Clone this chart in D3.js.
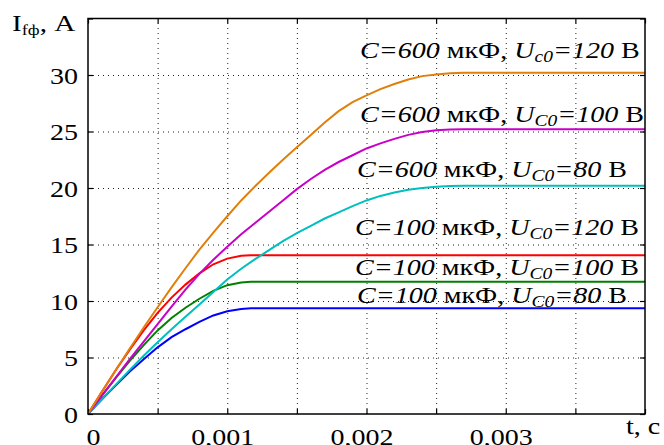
<!DOCTYPE html>
<html><head><meta charset="utf-8">
<script src="https://cdn.jsdelivr.net/npm/d3@7"></script>
<style>
html,body{margin:0;padding:0;background:#fff;}
svg{display:block;font-family:"Liberation Serif","Times New Roman",serif;}
</style></head>
<body><svg id="c" width="664" height="445"></svg>
<script>
// ---- data ----
const t100 = [0,0.0001,0.0002,0.0003,0.0004,0.0005,0.0006,0.0007,0.0008,0.0009,0.0010,0.0011,0.00117,0.004];
const blue100_80   = [0,1.3,2.55,3.75,4.85,5.9,6.8,7.5,8.15,8.72,9.1,9.3,9.35,9.35];
const green100_100 = [0,1.63,3.2,4.7,6.1,7.4,8.5,9.4,10.2,10.9,11.4,11.63,11.7,11.7];
const red100_120   = [0,1.97,3.9,5.7,7.4,8.95,10.3,11.45,12.45,13.25,13.75,14.0,14.05,14.05];
const t600 = [0,0.0001,0.0002,0.0003,0.0004,0.0005,0.0006,0.0007,0.0008,0.0009,0.0010,0.0011,0.0012,0.0013,0.0014,0.0015,0.0016,0.0017,0.0018,0.0019,0.0020,0.0021,0.0022,0.0023,0.0024,0.0025,0.0026,0.0027,0.004];
const orange600_120 = [0,1.97,3.9,5.8,7.65,9.45,11.2,12.9,14.55,16.05,17.5,18.9,20.15,21.35,22.5,23.6,24.7,25.8,26.8,27.6,28.2,28.75,29.2,29.6,29.9,30.05,30.15,30.2,30.2];
const magenta600_100 = [0,1.63,3.25,4.85,6.4,7.95,9.5,11.0,12.4,13.65,14.8,15.9,16.9,17.9,18.9,19.9,20.8,21.6,22.3,22.9,23.5,23.95,24.35,24.7,24.95,25.1,25.18,25.2,25.2];
const cyan600_80 = [0,1.3,2.6,3.9,5.15,6.35,7.5,8.6,9.7,10.8,11.9,12.85,13.7,14.5,15.3,16.0,16.65,17.3,17.85,18.4,18.9,19.3,19.6,19.85,20.0,20.1,20.17,20.2,20.2];
const xTicks = [0,0.0005,0.001,0.0015,0.002,0.0025,0.003,0.0035,0.004];
const xTickLabels = [0,0.001,0.002,0.003];
const yTicks = [0,5,10,15,20,25,30,35];
const yTickLabels = [0,5,10,15,20,25,30];
const labelC = ["600","600","600","100","100","100"];
const labelSub = ["c0","C0","C0","C0","C0","C0"];
const labelU = ["120","100","80","120","100","80"];

// ---- layout ----
const X0=88, X1=645, Y0=414, Y1=18.5, SX=1.22;
const svg = d3.select("#c");
const x = d3.scaleLinear().domain([0,0.004]).range([X0,X1]);
const y = d3.scaleLinear().domain([0,35]).range([Y0,Y1]);

// grid
const gx = svg.append("g").attr("transform",`translate(0,${Y0})`)
  .call(d3.axisBottom(x).tickValues(xTicks.slice(1,-1)).tickSize(-(Y0-Y1)).tickFormat(""));
const gy = svg.append("g").attr("transform",`translate(${X0},0)`)
  .call(d3.axisLeft(y).tickValues(yTicks.slice(1,-1)).tickSize(-(X1-X0)).tickFormat(""));
[gx,gy].forEach(g=>{g.select(".domain").remove();
  g.selectAll("line").attr("stroke","#222").attr("stroke-width",1).attr("stroke-dasharray","1,4");});

// inward ticks on all sides
function ticks(axis, tr){
  const g = svg.append("g").attr("transform",tr).call(axis);
  g.select(".domain").remove();
  g.selectAll("line").attr("stroke","#000").attr("stroke-width",1.2);
  return g;
}
ticks(d3.axisBottom(x).tickValues(xTicks).tickSizeInner(-5).tickSizeOuter(0).tickFormat(""),`translate(0,${Y0})`);
ticks(d3.axisTop(x).tickValues(xTicks).tickSizeInner(-5).tickSizeOuter(0).tickFormat(""),`translate(0,${Y1})`);
ticks(d3.axisLeft(y).tickValues(yTicks).tickSizeInner(-5).tickSizeOuter(0).tickFormat(""),`translate(${X0},0)`);
ticks(d3.axisRight(y).tickValues(yTicks).tickSizeInner(-5).tickSizeOuter(0).tickFormat(""),`translate(${X1},0)`);

// tick labels
const fmt = d => d===0 ? "0" : d3.format(".3f")(d).replace(".",",");
const lx = svg.append("g").attr("transform",`translate(0,${Y0})`)
  .call(d3.axisBottom(x).tickValues(xTickLabels).tickSize(0).tickFormat(fmt));
lx.select(".domain").remove();
lx.selectAll("text").attr("x",null).attr("y",null).attr("dy",null)
  .attr("transform",d=>`translate(${d===0?5:-5},30.5) scale(${SX},1)`)
  .attr("font-size",23).attr("font-family","Liberation Serif").attr("fill","#000");
const ly = svg.append("g").attr("transform",`translate(${X0},0)`)
  .call(d3.axisLeft(y).tickValues(yTickLabels).tickSize(0).tickFormat(d3.format("d")));
ly.select(".domain").remove();
ly.selectAll("text").attr("x",null).attr("y",null).attr("dy",null)
  .attr("transform",`translate(-10,8) scale(${SX},1)`).attr("text-anchor","end")
  .attr("font-size",23).attr("font-family","Liberation Serif").attr("fill","#000");

// curves
const line = d3.line().x(d=>x(d[0])).y(d=>y(d[1]));
const series = [
  [t100, blue100_80, "#0000ff"],
  [t100, green100_100, "#008000"],
  [t100, red100_120, "#ff0000"],
  [t600, cyan600_80, "#00bfbf"],
  [t600, magenta600_100, "#c800c8"],
  [t600, orange600_120, "#e0800a"]
];
const clip = svg.append("clipPath").attr("id","pc").append("rect")
  .attr("x",X0).attr("y",Y1).attr("width",X1-X0).attr("height",Y0-Y1);
series.forEach(([t,v,c])=>{
  svg.append("path").datum(t.map((tt,i)=>[tt,v[i]])).attr("d",line)
    .attr("fill","none").attr("stroke",c).attr("stroke-width",2).attr("clip-path","url(#pc)");
});

// frame
svg.append("rect").attr("x",X0).attr("y",Y1).attr("width",X1-X0).attr("height",Y0-Y1)
  .attr("fill","none").attr("stroke","#000").attr("stroke-width",1.5);

// annotations
const labelPos = [[360,58],[360,121.5],[357,176.5],[355,235],[355,275],[357,303]];
labelC.forEach((c,i)=>{
  const t = svg.append("text").attr("transform",`translate(${labelPos[i][0]},${labelPos[i][1]}) scale(${SX},1)`)
    .attr("font-size",23).attr("fill","#000");
  t.append("tspan").attr("font-style","italic").text("C=" + c);
  t.append("tspan").text(" мкФ, ");
  t.append("tspan").attr("font-style","italic").text("U");
  t.append("tspan").attr("font-style","italic").attr("font-size",16).attr("dy",4).text(labelSub[i]);
  t.append("tspan").attr("font-style","italic").attr("dy",-4).text("=" + labelU[i]);
  t.append("tspan").text(" В");
});

// axis titles
const yt = svg.append("text").attr("transform",`translate(12,31) scale(${SX},1)`).attr("font-size",24).attr("fill","#000");
yt.append("tspan").text("I");
yt.append("tspan").attr("font-size",15).attr("dy",4).text("fф");
yt.append("tspan").attr("dy",-4).text(", A");
svg.append("text").attr("transform",`translate(626,434) scale(${SX},1)`).attr("font-size",23).attr("fill","#000").text("t, c");
</script></body></html>
